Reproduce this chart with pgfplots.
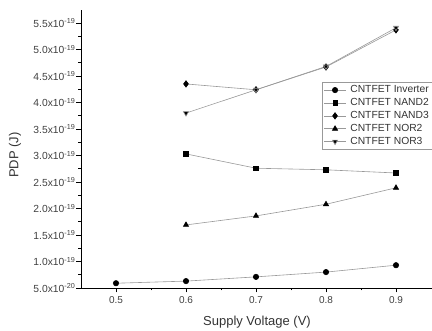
\documentclass[border=0pt]{standalone}
\usepackage{pgfplots}
\pgfplotsset{compat=1.18}
\usepackage{fontspec}
\setmainfont{Liberation Sans}
\begin{document}
\begin{tikzpicture}[x=1pt,y=1pt]
\begin{axis}[
  at={(81pt,43pt)}, anchor=origin,
  scale only axis, width=364pt, height=278.25pt,
  xmin=0.45, xmax=0.97, ymin=0.5, ymax=5.75,
  axis x line*=bottom, axis y line*=left,
  axis line style={black, line width=0.9pt},
  tick align=outside, major tick length=4.5pt, minor tick length=2.5pt,
  tick style={black, line width=0.8pt},
  xtick={0.5,0.6,0.7,0.8,0.9}, minor x tick num=1,
  xticklabel style={/pgf/number format/fixed, /pgf/number format/precision=1, /pgf/number format/fixed zerofill, font=\fontsize{10}{11}\selectfont, text=black!75},
  /pgf/number format/assume math mode=true,
  ytick={0.5,1,1.5,2,2.5,3,3.5,4,4.5,5,5.5}, minor y tick num=1,
  yticklabels={5.0x10\textsuperscript{-20},1.0x10\textsuperscript{-19},1.5x10\textsuperscript{-19},2.0x10\textsuperscript{-19},2.5x10\textsuperscript{-19},3.0x10\textsuperscript{-19},3.5x10\textsuperscript{-19},4.0x10\textsuperscript{-19},4.5x10\textsuperscript{-19},5.0x10\textsuperscript{-19},5.5x10\textsuperscript{-19}},
  yticklabel style={font=\fontsize{10.3}{11}\selectfont, text=black!75, inner sep=1pt},
  xlabel={Supply Voltage (V)}, ylabel={PDP (J)},
  label style={font=\fontsize{13}{15}\selectfont, text=black!80},
  xlabel style={at={(axis description cs:0.4835,0)}, anchor=center, yshift=-34pt},
  ylabel style={at={(axis description cs:-0.181,0.478)}, anchor=center},
  clip=false,
  legend style={at={(322pt-81pt,249pt-43pt)}, anchor=north west, draw=black!40, line width=0.5pt,
    font=\fontsize{10.3}{12}\selectfont, text=black!80, inner sep=1.5pt, row sep=0.2pt,
    legend cell align=left, nodes={inner xsep=4pt}},
  legend image code/.code={\draw[#1, mark repeat=2, mark phase=2] plot coordinates {(0pt,0pt) (11pt,0pt) (22pt,0pt)};},
  every axis plot/.append style={draw=black!40, line width=0.6pt, mark options={fill=black, draw=black, solid}},
]
\addplot[mark=*, mark size=2.7pt] coordinates {(0.5,0.59) (0.6,0.63) (0.7,0.71) (0.8,0.80) (0.9,0.93)};
\addlegendentry{CNTFET Inverter}
\addplot[mark=square*, mark size=2.2pt] coordinates {(0.6,3.03) (0.7,2.76) (0.8,2.73) (0.9,2.67)};
\addlegendentry{CNTFET NAND2}
\addplot[mark=diamond*, mark size=3.2pt] coordinates {(0.6,4.35) (0.7,4.24) (0.8,4.67) (0.9,5.37)};
\addlegendentry{CNTFET NAND3}
\addplot[mark=triangle*, mark size=3pt] coordinates {(0.6,1.69) (0.7,1.86) (0.8,2.08) (0.9,2.39)};
\addlegendentry{CNTFET NOR2}
\addplot[mark=triangle*, mark size=3pt, mark options={rotate=180}] coordinates {(0.6,3.80) (0.7,4.24) (0.8,4.68) (0.9,5.41)};
\addlegendentry{CNTFET NOR3}
\end{axis}
\pgfresetboundingbox
\path[use as bounding box] (0,0) rectangle (432,331);
\end{tikzpicture}
\end{document}
